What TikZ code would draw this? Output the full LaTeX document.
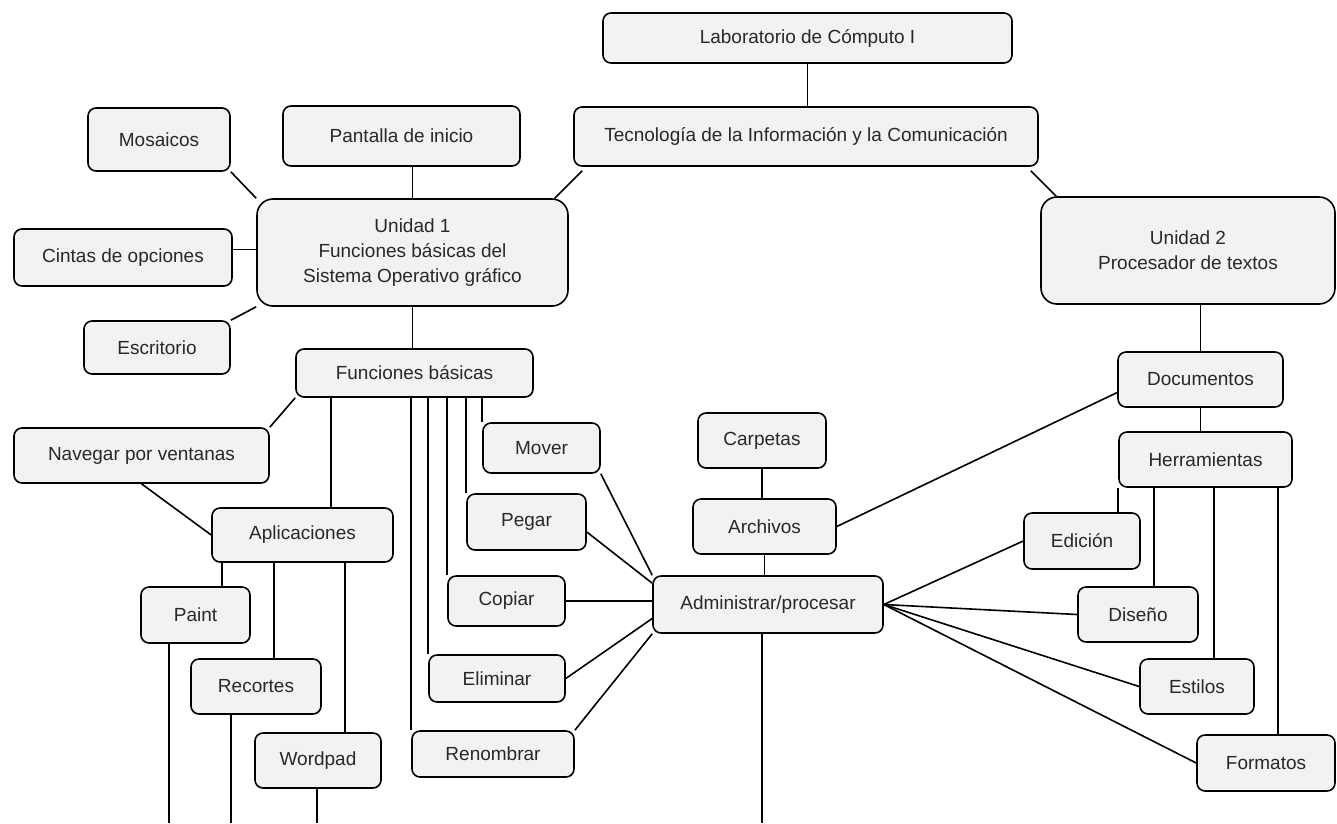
\documentclass[tikz,border=0pt]{standalone}
\usepackage{fontspec}
\setmainfont{Liberation Sans}
\usetikzlibrary{calc}
\definecolor{boxfill}{RGB}{242,242,242}
\definecolor{txt}{RGB}{40,40,40}
\tikzset{
  box/.style={draw=black, line width=1.6pt, fill=boxfill, rounded corners=8pt,
    inner sep=0pt, align=center, text=txt,
    font=\fontsize{19}{25}\selectfont},
  bigbox/.style={box, rounded corners=16pt},
  conn/.style={draw=black, line width=1.6pt}
}
\begin{document}
\begin{tikzpicture}[x=1pt,y=-1pt]
\useasboundingbox (0,0) rectangle (1337,823);
% nodes
\node[box, minimum width=409pt, minimum height=50pt] (lab) at (807.5,38) {Laboratorio de Cómputo I};
\node[box, minimum width=464pt, minimum height=59pt] (tec) at (806,136.5) {Tecnología de la Información y la Comunicación};
\node[box, minimum width=142pt, minimum height=63pt] (mos) at (159,139.5) {Mosaicos};
\node[box, minimum width=237pt, minimum height=60pt] (pan) at (401.5,136) {Pantalla de inicio};
\node[bigbox, minimum width=311pt, minimum height=107pt] (u1) at (412.5,252.5) {Unidad 1\\Funciones básicas del\\Sistema Operativo gráfico};
\node[bigbox, minimum width=294pt, minimum height=107pt] (u2) at (1188,250.5) {Unidad 2\\Procesador de textos};
\node[box, minimum width=218pt, minimum height=57pt] (cin) at (123,257.5) {Cintas de opciones};
\node[box, minimum width=146pt, minimum height=53pt] (esc) at (157,347.5) {Escritorio};
\node[box, minimum width=237pt, minimum height=48pt] (fb) at (414.5,373) {Funciones básicas};
\node[box, minimum width=255pt, minimum height=55pt] (nav) at (141.5,455.5) {Navegar por ventanas};
\node[box, minimum width=181pt, minimum height=54pt] (apl) at (302.5,535) {Aplicaciones};
\node[box, minimum width=109pt, minimum height=56pt] (paint) at (195.5,615) {Paint};
\node[box, minimum width=130pt, minimum height=55pt] (rec) at (256,686.5) {Recortes};
\node[box, minimum width=126pt, minimum height=55pt] (word) at (318,760.5) {Wordpad};
\node[box, minimum width=117pt, minimum height=50pt] (mover) at (541.5,448) {Mover};
\node[box, minimum width=119pt, minimum height=56pt] (pegar) at (526.5,522) {Pegar};
\node[box, minimum width=117pt, minimum height=50pt] (copiar) at (506.5,601) {Copiar};
\node[box, minimum width=136pt, minimum height=47pt] (elim) at (497,678.5) {Eliminar};
\node[box, minimum width=162pt, minimum height=46pt] (ren) at (493,754) {Renombrar};
\node[box, minimum width=128pt, minimum height=55pt] (carp) at (762,440.5) {Carpetas};
\node[box, minimum width=143pt, minimum height=55pt] (arch) at (764.5,526.5) {Archivos};
\node[box, minimum width=230pt, minimum height=57pt] (adm) at (768,604.5) {Administrar/procesar};
\node[box, minimum width=165pt, minimum height=55pt] (doc) at (1200.5,379.5) {Documentos};
\node[box, minimum width=173pt, minimum height=55pt] (herr) at (1205.5,459.5) {Herramientas};
\node[box, minimum width=116pt, minimum height=56pt] (edi) at (1082,541) {Edición};
\node[box, minimum width=120pt, minimum height=55pt] (dis) at (1138,614.5) {Diseño};
\node[box, minimum width=114pt, minimum height=55pt] (est) at (1197,686.5) {Estilos};
\node[box, minimum width=138pt, minimum height=56pt] (form) at (1266,763) {Formatos};
% free ends at the bottom
\coordinate (pend) at (169,823);
\coordinate (rend) at (231,823);
\coordinate (wend) at (317,823);
\coordinate (aend) at (762,823);
% helper points on node edges
\path (fb.south) ++(-83.5,0) coordinate (fbA);
\path (apl.south) ++(-80.5,0) coordinate (ap1);
\path (apl.south) ++(-28.5,0) coordinate (ap2);
\path (apl.south) ++(42.5,0) coordinate (ap3);
\path (herr.south) ++(-51.5,0) coordinate (h2);
\path (herr.south) ++(8.5,0) coordinate (h3);
\path (herr.south) ++(72.5,0) coordinate (h4);
\path (cin.east) ++(0,-8) coordinate (cinE);
% connectors
\draw[conn] (lab.south) -- (lab.south |- tec.north);
\draw[conn] ($(tec.south west)+(9,4)$) -- ($(u1.north east)+(-14,0)$);
\draw[conn] ($(tec.south east)+(-8,4)$) -- ($(u2.north west)+(16,0)$);
\draw[conn] (mos.south east) -- (u1.north west);
\draw[conn] (u1.north) -- (u1.north |- pan.south);
\draw[conn] (cinE) -- (cinE -| u1.west);
\draw[conn] (esc.north east) -- (u1.south west);
\draw[conn] (u1.south) -- (u1.south |- fb.north);
\draw[conn] (fb.south west) -- (nav.north east);
\draw[conn] (nav.south) -- (apl.west);
\draw[conn] (fbA) -- (fbA |- apl.north);
\draw[conn] (ap1) -- (ap1 |- paint.north);
\draw[conn] (ap2) -- (ap2 |- rec.north);
\draw[conn] (ap3) -- (ap3 |- word.north);
\draw[conn] (pend |- paint.south) -- (pend);
\draw[conn] (rend |- rec.south) -- (rend);
\draw[conn] (wend |- word.south) -- (wend);
\draw[conn] (ren.north west |- fb.south) -- (ren.north west);
\draw[conn] (elim.north west |- fb.south) -- (elim.north west);
\draw[conn] (copiar.north west |- fb.south) -- (copiar.north west);
\draw[conn] (pegar.north west |- fb.south) -- (pegar.north west);
\draw[conn] (mover.north west |- fb.south) -- (mover.north west);
\draw[conn] (mover.south east) -- (adm.north west);
\draw[conn] ($(pegar.east)+(0,10)$) -- ($(adm.north west)+(0,8)$);
\draw[conn] (copiar.east) -- (copiar.east -| adm.west);
\draw[conn] (elim.east) -- ($(adm.west)+(0,14)$);
\draw[conn] (ren.north east) -- (adm.south west);
\draw[conn] (carp.south) -- (carp.south |- arch.north);
\draw[conn] (arch.south) -- (arch.south |- adm.north);
\draw[conn] (aend |- adm.south) -- (aend);
\draw[conn] (arch.east) -- ($(doc.west)+(0,13)$);
\draw[conn] (doc.north) -- (doc.north |- u2.south);
\draw[conn] (doc.south) -- (doc.south |- herr.north);
\draw[conn] (herr.south west) -- (herr.south west |- edi.north);
\draw[conn] (h2) -- (h2 |- dis.north);
\draw[conn] (h3) -- (h3 |- est.north);
\draw[conn] (h4) -- (h4 |- form.north);
\draw[conn] (adm.east) -- (edi.west);
\draw[conn] (adm.east) -- (dis.west);
\draw[conn] (adm.east) -- (est.west);
\draw[conn] (adm.east) -- (form.west);
\end{tikzpicture}
\end{document}
